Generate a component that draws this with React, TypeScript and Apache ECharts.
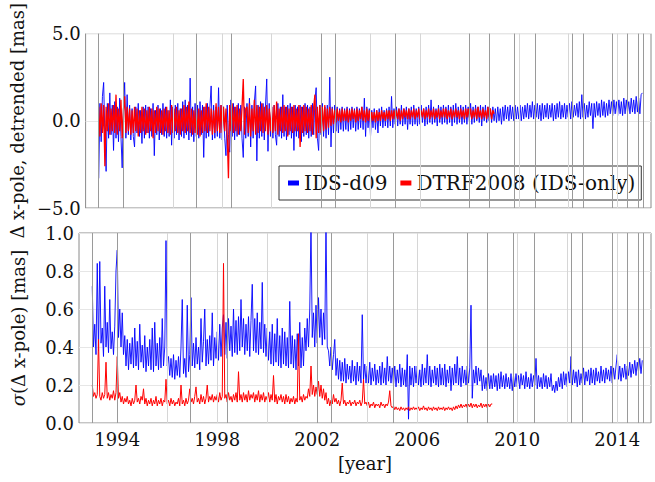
import React, { useEffect, useRef } from "react";
import * as echarts from "echarts";

// sampling: one value every 0.05 year starting at 1993.0
const START_YEAR = 1993.0;
const STEP = 0.05;

// Δ x-pole, detrended [mas] — IDS-d09 (1993.00 … 2015.00)
const deltaIDS = [
  -3.3, 1.0, -1.2, 1.4, 2.2, -0.9, -2.9, 1.0, -1.0, 1.6, -0.8, 0.9, -1.7, 1.1, -1.0, 0.8, -1.2, 1.3, -0.9, -2.7,
  0.7, 2.2, -1.0, 1.5, -0.8, 0.9, -1.1, 0.7, -0.9, -1.5, 0.8, -0.7, 1.0, -0.9, 0.6, -1.3, 0.8, -1.0, 0.9, -0.7,
  0.8, -1.0, 0.7, -0.9, 1.0, -2.0, 0.6, -0.8, 0.9, -1.1, 0.7, -0.8, 1.0, -0.9, 0.8, -1.0, 0.6, -0.9, 1.2, -1.4,
  0.8, -1.0, 0.9, -0.8, 1.0, -1.1, 0.7, -0.9, 1.1, -1.0, 1.2, -0.8, 0.9, -1.1, 2.45, -0.9, 0.8, -1.2, 1.0, -0.9,
  0.9, -1.0, 1.1, -0.8, 0.9, -2.1, 0.8, -1.0, 1.0, -0.9, 0.8, 2.0, -1.1, 0.9, -1.0, 0.8, -0.9, 1.9, -1.0, 0.9,
  -1.1, 0.8, -1.0, -2.0, 0.9, -0.8, -1.8, 1.2, -0.9, 1.0, -1.1, 0.8, -0.9, 1.0, -0.8, 0.9, -1.0, -2.1, 0.8, -1.0,
  1.0, -0.9, 1.3, -1.5, 0.9, -1.0, 1.1, 2.0, -2.3, 0.9, -1.0, 1.1, -0.9, 1.0, -1.1, 0.9, 2.4, -1.75, 1.0, -0.9,
  0.8, -1.0, 0.9, -0.8, -1.4, 1.0, -0.9, 0.8, -1.0, 1.5, -0.9, 0.8, -1.1, 0.9, -0.8, 1.0, -1.0, 0.8, -1.7, 0.9,
  -0.9, 0.8, -1.0, 0.9, -1.2, 0.8, -0.9, 1.0, -0.8, 0.9, -1.0, 0.8, -0.9, 1.0, -0.8, 1.2, 1.9, -1.0, -1.7, 0.9,
  -0.8, 1.0, -0.9, 0.8, -1.0, 0.9, -0.8, 2.5, -1.5, 0.8, -0.7, 0.9, -0.6, 0.8, -0.7, 0.7, -0.5, 0.8, -0.6, 0.7,
  -0.5, 0.8, -0.6, 0.7, -0.5, 0.8, -0.4, 0.7, -0.6, 0.8, -0.5, 0.7, -0.4, 0.8, -0.5, 1.3, -0.9, 0.8, -0.4, 0.7,
  -0.9, 0.6, -0.4, 0.7, -0.5, 0.6, -0.7, 0.7, -0.3, 0.8, -0.4, 0.6, -0.3, 0.7, -0.4, 0.8, -0.3, 1.4, -0.4, 0.7,
  -0.2, 0.8, -0.3, 0.7, -0.2, 0.9, -0.3, 0.7, -0.2, 0.8, -0.5, 0.7, -0.2, 0.8, -0.3, 0.9, -0.2, 0.7, -0.3, 0.8,
  -0.2, 0.9, -0.1, 0.7, -0.3, 0.8, -0.2, 0.9, -0.1, 1.2, -0.2, 0.8, -0.1, 0.7, -0.3, 0.9, -0.1, 0.8, -0.2, 0.9,
  -0.1, 0.8, -0.2, 0.9, -0.1, 0.8, -0.3, 0.9, -0.1, 1.0, -0.2, 0.8, -0.1, 0.9, -0.2, 0.8, -0.1, 0.9, -0.2, 0.8,
  0.0, 1.0, -0.2, 0.8, -0.1, 0.9, 0.0, 0.8, -0.1, 0.9, -0.3, 0.8, 0.0, 0.9, -0.1, 0.8, 0.0, 0.7, -0.1, 0.8,
  0.0, 0.7, -0.1, 0.8, 0.0, 0.7, -0.2, 0.8, 0.0, 0.9, 0.1, 0.8, 0.0, 0.9, 0.1, 0.8, 0.0, 0.9, 0.1, 0.8,
  0.1, 0.9, 0.0, 0.8, 0.1, 0.9, 0.2, 1.0, 0.1, 0.9, 0.2, 1.1, 0.1, 0.9, 0.2, 1.0, 0.1, 0.9, 0.0, 1.0,
  0.1, 0.9, 0.2, 1.0, 0.1, 0.9, 0.2, 1.0, 0.0, 0.9, 0.1, 1.0, 0.2, 1.1, 0.1, 0.9, 0.2, 1.0, 0.1, 0.9,
  0.2, 1.0, 0.1, 1.1, 0.2, 0.9, 0.3, 1.0, 0.2, 1.1, 0.1, 1.5, 0.2, 1.0, 0.1, 0.9, 0.2, 1.1, 0.3, 1.0,
  -0.45, 1.0, 0.2, 1.1, 0.3, 1.0, 0.2, 1.2, 0.3, 1.1, 0.2, 1.0, 0.3, 1.2, 0.4, 1.1, 0.3, 1.2, 0.4, 1.1,
  0.3, 1.2, 0.4, 1.1, 0.3, 1.3, 0.4, 1.2, 0.5, 1.1, 0.4, 1.3, 0.5, 1.2, 0.4, 1.4, 0.5, 1.3, 0.4, 1.5,
  1.6,
];

// Δ x-pole, detrended [mas] — DTRF2008 (IDS-only) (1993.00 … 2009.00)
const deltaDTRF = [
  0.8, -0.9, 1.0, -0.7, 0.9, -2.6, 0.8, -0.6, 1.0, -0.8, 0.7, -0.6, 0.9, -0.7, 1.5, -0.8, 0.7, -0.6, 1.2, -1.0,
  0.6, 1.4, -0.7, 0.8, -0.6, 0.7, -0.8, 0.6, -0.7, 0.8, -0.6, 0.7, -0.9, 0.6, -0.7, 0.8, -0.6, 0.7, -0.8, 0.6,
  -0.7, 0.8, -0.6, 0.7, -1.0, 0.6, -0.7, 0.8, -0.6, 0.7, -0.7, 0.6, -0.8, 0.7, -0.6, 0.8, -0.7, 0.6, -0.8, 0.9,
  -0.7, 0.7, -0.6, 0.8, -0.7, 0.6, -0.8, 0.7, -0.6, 0.9, -0.7, 0.8, -0.6, 1.1, -0.7, 0.7, -0.8, 0.6, -0.7, 0.8,
  -0.8, 0.7, -0.9, 0.6, -0.7, 0.8, -0.6, 1.0, -0.7, 0.8, -0.6, 0.7, -0.8, 0.6, -0.7, 1.0, -0.6, 0.8, -0.7, 0.9,
  -0.7, 0.8, -0.6, 0.7, -0.8, -3.3, 0.9, -0.6, 1.0, -0.7, 0.8, -0.6, 0.9, -0.8, 0.7, -0.6, 0.8, 2.4, -0.8, 0.7,
  0.8, -0.7, 1.0, -0.9, 0.7, -0.6, 1.2, -0.8, 0.9, -0.7, 0.8, -0.6, 1.0, -0.7, 0.8, -0.6, 0.9, -0.8, 0.7, -0.6,
  0.8, -0.7, 0.9, -0.6, 1.1, -0.8, 0.7, -0.6, 0.8, -0.7, 0.9, -0.6, 0.8, -0.9, 0.7, -0.6, 0.8, -0.7, 0.9, -0.6,
  0.7, -0.6, 0.9, -1.5, 0.8, -0.7, 0.9, -0.6, 0.8, -0.7, 0.7, -0.6, 0.9, -0.8, 0.8, 1.5, -1.0, 0.8, -0.7, 0.9,
  -0.7, 0.8, -0.6, 0.9, -0.5, 0.7, -0.4, 0.8, -0.3, 0.7, -0.2, 0.6, -0.1, 0.7, 0.0, 0.6, -0.1, 0.7, 0.0, 0.6,
  0.0, 0.7, -0.1, 0.6, 0.0, 0.7, 0.1, 0.6, -0.1, 0.7, 0.0, 0.6, 0.1, 0.8, 0.0, 0.6, -0.1, 0.7, 0.0, 0.6,
  -0.1, 0.5, 0.0, 0.5, -0.1, 0.6, 0.0, 0.5, 0.0, 0.6, 0.1, 0.5, 0.0, 0.6, 0.1, 0.6, 0.0, 0.6, 0.1, 0.6,
  0.1, 0.6, 0.1, 0.7, 0.0, 0.6, 0.1, 0.7, 0.2, 0.6, 0.1, 0.7, 0.1, 0.6, 0.2, 0.7, 0.1, 0.6, 0.2, 0.7,
  0.1, 0.6, 0.2, 0.7, 0.1, 0.6, 0.2, 0.7, 0.1, 0.6, 0.2, 0.7, 0.1, 0.6, 0.2, 0.7, 0.1, 0.6, 0.2, 0.7,
  0.2, 0.7, 0.1, 0.6, 0.2, 0.7, 0.1, 0.6, 0.2, 0.7, 0.2, 0.6, 0.1, 0.7, 0.2, 0.6, 0.1, 0.7, 0.2, 0.7,
  0.2, 0.7, 0.1, 0.6, 0.2, 0.7, 0.1, 0.8, 0.2, 0.6, 0.1, 0.7, 0.2, 0.6, 0.1, 0.8, 0.2, 0.7, 0.1, 0.6,
  0.4,
];

// σ(Δ x-pole) [mas] — IDS-d09 (1993.00 … 2015.00)
const sigmaIDS = [
  0.72, 0.40, 0.52, 0.36, 0.84, 0.38, 0.85, 0.42, 0.50, 0.35, 0.72, 0.40, 0.53, 0.37, 0.65, 0.39, 0.48, 0.36, 0.51, 0.80,
  0.91, 0.45, 0.60, 0.40, 0.58, 0.36, 0.46, 0.30, 0.44, 0.28, 0.42, 0.31, 0.45, 0.29, 0.50, 0.30, 0.43, 0.28, 0.52, 0.32,
  0.41, 0.29, 0.46, 0.27, 0.40, 0.30, 0.44, 0.28, 0.50, 0.27, 0.53, 0.30, 0.42, 0.28, 0.45, 0.29, 0.55, 0.30, 0.40, 0.96,
  0.30, 0.35, 0.25, 0.34, 0.24, 0.36, 0.23, 0.33, 0.25, 0.35, 0.24, 0.40, 0.65, 0.26, 0.34, 0.24, 0.62, 0.27, 0.36, 0.66,
  0.30, 0.42, 0.29, 0.45, 0.31, 0.40, 0.28, 0.55, 0.32, 0.43, 0.60, 0.30, 0.44, 0.31, 0.46, 0.33, 0.58, 0.30, 0.45, 0.34,
  0.48, 0.33, 0.52, 0.35, 0.50, 0.57, 0.36, 0.53, 0.34, 0.55, 0.38, 0.51, 0.35, 0.60, 0.37, 0.54, 0.36, 0.56, 0.38, 0.65,
  0.40, 0.55, 0.36, 0.52, 0.38, 0.56, 0.35, 0.54, 0.73, 0.38, 0.55, 0.37, 0.58, 0.36, 0.53, 0.39, 0.74, 0.37, 0.52, 0.35,
  0.50, 0.33, 0.48, 0.31, 0.52, 0.30, 0.47, 0.32, 0.55, 0.30, 0.46, 0.29, 0.50, 0.31, 0.48, 0.30, 0.45, 0.29, 0.64, 0.31,
  0.46, 0.29, 0.44, 0.28, 0.47, 0.30, 0.53, 0.29, 0.45, 0.30, 0.50, 0.38, 0.55, 0.40, 0.60, 1.05, 0.45, 0.58, 0.40, 0.62,
  0.42, 0.66, 0.45, 0.60, 0.41, 0.58, 0.44, 1.05, 0.40, 0.38, 0.30, 0.40, 0.28, 0.36, 0.44, 0.25, 0.34, 0.23, 0.33, 0.22,
  0.32, 0.22, 0.34, 0.21, 0.31, 0.23, 0.30, 0.21, 0.33, 0.22, 0.30, 0.20, 0.32, 0.22, 0.30, 0.21, 0.57, 0.23, 0.31, 0.21,
  0.30, 0.21, 0.32, 0.20, 0.29, 0.22, 0.31, 0.20, 0.28, 0.21, 0.30, 0.20, 0.32, 0.21, 0.29, 0.20, 0.35, 0.22, 0.30, 0.21,
  0.29, 0.20, 0.30, 0.19, 0.28, 0.21, 0.31, 0.19, 0.29, 0.20, 0.28, 0.19, 0.36, 0.02, 0.30, 0.20, 0.29, 0.19, 0.30, 0.21,
  0.30, 0.20, 0.28, 0.19, 0.31, 0.20, 0.29, 0.21, 0.36, 0.20, 0.30, 0.19, 0.28, 0.21, 0.30, 0.20, 0.29, 0.19, 0.31, 0.20,
  0.29, 0.20, 0.31, 0.19, 0.28, 0.21, 0.30, 0.17, 0.29, 0.20, 0.31, 0.21, 0.35, 0.20, 0.29, 0.19, 0.30, 0.21, 0.28, 0.20,
  0.30, 0.21, 0.29, 0.62, 0.13, 0.28, 0.21, 0.30, 0.20, 0.29, 0.22, 0.28, 0.17, 0.25, 0.18, 0.24, 0.17, 0.26, 0.18, 0.25,
  0.18, 0.26, 0.19, 0.25, 0.17, 0.26, 0.18, 0.27, 0.19, 0.25, 0.18, 0.26, 0.19, 0.24, 0.18, 0.26, 0.17, 0.25, 0.19, 0.26,
  0.19, 0.25, 0.18, 0.26, 0.20, 0.25, 0.18, 0.27, 0.19, 0.24, 0.18, 0.26, 0.19, 0.25, 0.20, 0.34, 0.18, 0.25, 0.19, 0.24,
  0.18, 0.26, 0.19, 0.25, 0.18, 0.24, 0.19, 0.26, 0.17, 0.20, 0.16, 0.22, 0.17, 0.24, 0.19, 0.26, 0.18, 0.27, 0.20, 0.26,
  0.19, 0.27, 0.21, 0.35, 0.20, 0.28, 0.21, 0.27, 0.19, 0.28, 0.20, 0.26, 0.21, 0.29, 0.20, 0.27, 0.22, 0.28, 0.20, 0.29,
  0.21, 0.28, 0.20, 0.29, 0.22, 0.27, 0.21, 0.30, 0.22, 0.28, 0.21, 0.29, 0.23, 0.28, 0.22, 0.30, 0.21, 0.29, 0.23, 0.30,
  0.36, 0.23, 0.30, 0.22, 0.29, 0.24, 0.31, 0.23, 0.30, 0.25, 0.32, 0.24, 0.31, 0.26, 0.33, 0.25, 0.32, 0.27, 0.34, 0.26,
  0.33,
];

// σ(Δ x-pole) [mas] — DTRF2008 (IDS-only) (1993.00 … 2009.00)
const sigmaDTRF = [
  0.20, 0.14, 0.16, 0.13, 0.15, 0.44, 0.14, 0.12, 0.16, 0.13, 0.15, 0.32, 0.13, 0.16, 0.12, 0.15, 0.13, 0.17, 0.12, 0.16,
  0.35, 0.13, 0.16, 0.11, 0.14, 0.10, 0.13, 0.11, 0.14, 0.10, 0.12, 0.09, 0.13, 0.10, 0.12, 0.20, 0.11, 0.13, 0.10, 0.14,
  0.12, 0.18, 0.10, 0.13, 0.09, 0.12, 0.10, 0.13, 0.09, 0.12, 0.10, 0.14, 0.09, 0.12, 0.10, 0.13, 0.09, 0.12, 0.11, 0.23,
  0.10, 0.12, 0.09, 0.13, 0.10, 0.12, 0.09, 0.11, 0.10, 0.13, 0.09, 0.20, 0.10, 0.12, 0.09, 0.13, 0.10, 0.12, 0.18, 0.11,
  0.13, 0.10, 0.14, 0.19, 0.11, 0.13, 0.10, 0.15, 0.11, 0.14, 0.10, 0.13, 0.20, 0.11, 0.14, 0.12, 0.15, 0.11, 0.14, 0.12,
  0.15, 0.11, 0.16, 0.12, 0.14, 0.84, 0.13, 0.15, 0.11, 0.16, 0.12, 0.14, 0.11, 0.15, 0.12, 0.16, 0.11, 0.27, 0.12, 0.15,
  0.11, 0.16, 0.12, 0.15, 0.11, 0.17, 0.12, 0.15, 0.13, 0.16, 0.11, 0.15, 0.12, 0.17, 0.11, 0.15, 0.12, 0.16, 0.11, 0.14,
  0.12, 0.16, 0.11, 0.15, 0.12, 0.25, 0.11, 0.15, 0.10, 0.14, 0.12, 0.15, 0.11, 0.14, 0.10, 0.15, 0.11, 0.14, 0.10, 0.13,
  0.11, 0.14, 0.10, 0.13, 0.11, 0.47, 0.12, 0.14, 0.11, 0.15, 0.12, 0.14, 0.13, 0.18, 0.14, 0.30, 0.15, 0.20, 0.14, 0.19,
  0.15, 0.22, 0.14, 0.20, 0.13, 0.18, 0.12, 0.16, 0.10, 0.13, 0.09, 0.12, 0.10, 0.15, 0.11, 0.13, 0.10, 0.12, 0.09, 0.12,
  0.21, 0.10, 0.12, 0.09, 0.11, 0.10, 0.12, 0.09, 0.11, 0.10, 0.12, 0.09, 0.11, 0.10, 0.12, 0.09, 0.11, 0.23, 0.10, 0.11,
  0.09, 0.11, 0.08, 0.10, 0.09, 0.11, 0.08, 0.10, 0.09, 0.10, 0.08, 0.11, 0.09, 0.10, 0.08, 0.10, 0.09, 0.11, 0.17, 0.09,
  0.08, 0.09, 0.07, 0.085, 0.07, 0.08, 0.065, 0.085, 0.07, 0.08, 0.065, 0.08, 0.07, 0.085, 0.065, 0.08, 0.07, 0.085, 0.07, 0.08,
  0.07, 0.085, 0.065, 0.08, 0.07, 0.09, 0.07, 0.08, 0.065, 0.085, 0.07, 0.08, 0.065, 0.085, 0.07, 0.08, 0.065, 0.085, 0.07, 0.08,
  0.07, 0.085, 0.065, 0.08, 0.07, 0.085, 0.07, 0.08, 0.065, 0.085, 0.07, 0.09, 0.075, 0.095, 0.08, 0.10, 0.08, 0.095, 0.085, 0.10,
  0.08, 0.10, 0.085, 0.105, 0.08, 0.10, 0.085, 0.10, 0.08, 0.095, 0.085, 0.105, 0.08, 0.10, 0.085, 0.10, 0.08, 0.10, 0.085, 0.10,
  0.10,
];

// vertical reference lines
const gridYears = [1994, 1996, 1998, 2000, 2002, 2004, 2006, 2008, 2010, 2012, 2014];
const eventYears = [
  1993.0, 1994.0, 1996.93, 1998.38, 2002.0, 2002.57, 2005.02, 2008.0,
  2008.8, 2009.82, 2010.68, 2012.17, 2012.62, 2013.8, 2014.38, 2014.84, 2015.05,
];
const xTickLabels = [1994, 1998, 2002, 2006, 2010, 2014];
const seriesNames = ["IDS-d09", "DTRF2008 (IDS-only)"];

const FONT = "DejaVu Serif";
const BLUE = "#0000ff";
const RED = "#ff0000";

const toPairs = (arr: number[]) =>
  arr.map((v, i) => [Number((START_YEAR + i * STEP).toFixed(3)), v]);

export default function App() {
  const ref = useRef<HTMLDivElement>(null);
  useEffect(() => {
    if (!ref.current) return;
    const chart = echarts.init(ref.current, null, { renderer: "svg" });

    const vLines = [
      ...gridYears.map((y) => ({ xAxis: y, lineStyle: { color: "#d6d6d6", width: 1 } })),
      ...eventYears.map((y) => ({ xAxis: y, lineStyle: { color: "#9a9a9a", width: 1 } })),
    ];

    const markHost = (idx: number) => ({
      type: "line",
      xAxisIndex: idx,
      yAxisIndex: idx,
      data: [],
      silent: true,
      z: 1,
      markLine: {
        silent: true,
        symbol: ["none", "none"],
        label: { show: false },
        lineStyle: { type: "solid" },
        emphasis: { disabled: true },
        animation: false,
        data: vLines,
      },
    });

    const xBase = (idx: number) => ({
      type: "value",
      gridIndex: idx,
      min: 1992.47,
      max: 2015.35,
      axisLine: { show: false },
      axisTick: { show: false },
      splitLine: { show: false },
      axisLabel:
        idx === 1
          ? {
              show: true,
              customValues: xTickLabels,
              margin: 7,
              color: "#111",
              fontFamily: FONT,
              fontSize: 18,
              formatter: (v: number) => String(Math.round(v)),
            }
          : { show: false },
      ...(idx === 1
        ? {
            name: "[year]",
            nameLocation: "middle",
            nameGap: 31,
            nameTextStyle: { color: "#111", fontFamily: FONT, fontSize: 18 },
          }
        : {}),
    });

    const lineSeries = (name: string, data: number[], idx: number, color: string, width: number, z: number) => ({
      type: "line",
      name,
      xAxisIndex: idx,
      yAxisIndex: idx,
      data: toPairs(data),
      showSymbol: false,
      symbol: "none",
      color,
      itemStyle: { color },
      lineStyle: { color, width },
      z,
      clip: true,
    });

    chart.setOption({
      animation: false,
      legend: {
        data: seriesNames,
        left: 279,
        top: 166,
        orient: "horizontal",
        icon: "rect",
        itemWidth: 11,
        itemHeight: 5,
        itemGap: 13,
        padding: [7, 6, 7, 9],
        borderColor: "#333",
        borderWidth: 1,
        borderRadius: 0,
        backgroundColor: "#ffffff",
        textStyle: { color: "#111", fontFamily: FONT, fontSize: 20 },
        selectedMode: false,
      },
      grid: [
        { left: 79, right: 4, top: 18, height: 190, show: true, borderColor: "#8a8a8a", borderWidth: 1, backgroundColor: "transparent" },
        { left: 79, right: 4, top: 233, height: 190, show: true, borderColor: "#8a8a8a", borderWidth: 1, backgroundColor: "transparent" },
      ],
      xAxis: [xBase(0), xBase(1)],
      yAxis: [
        {
          type: "value",
          gridIndex: 0,
          min: -5,
          max: 5,
          interval: 5,
          axisLine: { show: false },
          axisTick: { show: false },
          splitLine: { show: true, lineStyle: { color: "#e6e6e6", width: 1 } },
          axisLabel: {
            margin: 5,
            color: "#111",
            fontFamily: FONT,
            fontSize: 18,
            formatter: (v: number) => (v < 0 ? "\u2212" : "") + Math.abs(v).toFixed(1),
          },
          name: "\u0394 x-pole, detrended [mas]",
          nameLocation: "middle",
          nameRotate: 90,
          nameGap: 53,
          nameTextStyle: { color: "#111", fontFamily: FONT, fontSize: 18 },
        },
        {
          type: "value",
          gridIndex: 1,
          min: 0,
          max: 1,
          interval: 0.2,
          axisLine: { show: false },
          axisTick: { show: false },
          splitLine: { show: true, lineStyle: { color: "#e6e6e6", width: 1 } },
          axisLabel: {
            margin: 5,
            color: "#111",
            fontFamily: FONT,
            fontSize: 18,
            formatter: (v: number) => v.toFixed(1),
          },
          name: "{i|\u03c3}(\u0394 x-pole) [mas]",
          nameLocation: "middle",
          nameRotate: 90,
          nameGap: 52,
          nameTextStyle: {
            color: "#111",
            fontFamily: FONT,
            fontSize: 18,
            rich: { i: { fontStyle: "italic", fontFamily: FONT, fontSize: 18, color: "#111" } },
          },
        },
      ],
      series: [
        markHost(0),
        markHost(1),
        lineSeries(seriesNames[0], deltaIDS, 0, BLUE, 0.9, 2),
        lineSeries(seriesNames[1], deltaDTRF, 0, RED, 1.3, 3),
        lineSeries(seriesNames[0], sigmaIDS, 1, BLUE, 0.9, 2),
        lineSeries(seriesNames[1], sigmaDTRF, 1, RED, 1.0, 3),
      ],
    });

    return () => chart.dispose();
  }, []);

  return (
    <div
      ref={ref}
      style={{ position: "fixed", left: 0, top: 0, width: 655, height: 482, background: "#fff" }}
    />
  );
}
